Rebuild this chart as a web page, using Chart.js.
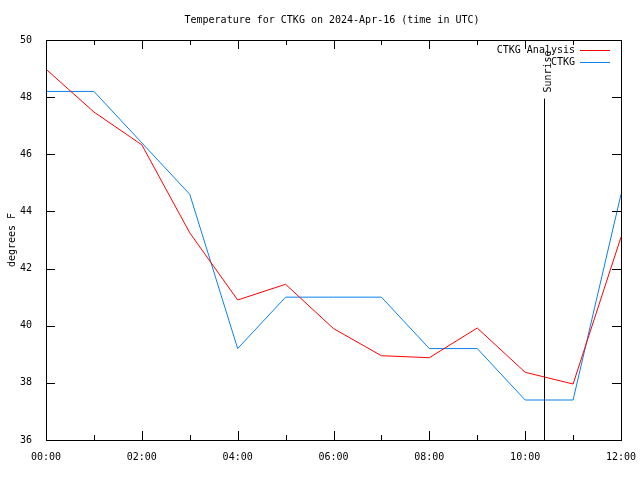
<!DOCTYPE html>
<html>
<head>
<meta charset="utf-8">
<script src="https://cdn.jsdelivr.net/npm/chart.js@4"></script>
<style>
html,body{margin:0;padding:0;background:#fff;}
#wrap{width:640px;height:480px;}
</style>
</head>
<body>
<div id="wrap"><canvas id="c" width="640" height="480"></canvas></div>
<script>
const titleText = 'Temperature for CTKG on 2024-Apr-16 (time in UTC)';
const yAxisLabel = 'degrees F';
const hours = [0,1,2,3,4,5,6,7,8,9,10,11,12];
const xTickLabels = ['00:00','02:00','04:00','06:00','08:00','10:00','12:00'];
const yTicks = [36,38,40,42,44,46,48,50];
const analysisLabel = 'CTKG Analysis';
const analysis = [48.98,47.48,46.33,43.25,40.9,41.45,39.9,38.95,38.88,39.92,38.37,37.96,43.1];
const obsLabel = 'CTKG';
const obs = [48.2,48.2,46.4,44.6,39.2,41.0,41.0,41.0,39.2,39.2,37.4,37.4,44.6];
const sunriseHour = 10.4;
const sunriseTop = 47.95;
const sunriseText = 'Sunrise';

const FONT = '10px "DejaVu Sans Mono", monospace';
const RED = '#ff0000';
const BLUE = '#0a80f0';

const decor = {
  id: 'decor',
  afterDatasetsDraw(chart) {
    const ctx = chart.ctx;
    const a = chart.chartArea;
    const xs = chart.scales.x, ys = chart.scales.y;
    ctx.save();
    ctx.strokeStyle = '#000';
    ctx.lineWidth = 1;
    ctx.strokeRect(Math.round(a.left)+0.5, Math.round(a.top)+0.5, Math.round(a.right-a.left), Math.round(a.bottom-a.top));
    ctx.beginPath();
    for (let h = 0; h <= 12; h++) {
      const px = Math.round(xs.getPixelForValue(h)) + 0.5;
      const len = (h % 2 === 0) ? 9 : 5;
      ctx.moveTo(px, a.bottom); ctx.lineTo(px, a.bottom - len);
      ctx.moveTo(px, a.top); ctx.lineTo(px, a.top + len);
    }
    for (const v of yTicks) {
      const py = Math.round(ys.getPixelForValue(v)) + 0.5;
      ctx.moveTo(a.left, py); ctx.lineTo(a.left + 9, py);
      ctx.moveTo(a.right, py); ctx.lineTo(a.right - 9, py);
    }
    ctx.stroke();
    const sx = Math.round(xs.getPixelForValue(sunriseHour)) + 0.5;
    ctx.beginPath();
    ctx.moveTo(sx, ys.getPixelForValue(sunriseTop));
    ctx.lineTo(sx, a.bottom);
    ctx.stroke();
    ctx.font = FONT;
    ctx.fillStyle = '#000';
    ctx.save();
    ctx.translate(sx + 6, ys.getPixelForValue(sunriseTop) - 6);
    ctx.rotate(-Math.PI/2);
    ctx.textAlign = 'left';
    ctx.textBaseline = 'alphabetic';
    ctx.fillText(sunriseText, 0, 0);
    ctx.restore();
    const items = [[analysisLabel, RED], [obsLabel, BLUE]];
    items.forEach((it, i) => {
      const y = 50 + i * 12;
      ctx.textAlign = 'right';
      ctx.textBaseline = 'middle';
      ctx.fillStyle = '#000';
      ctx.fillText(it[0], 575, y);
      ctx.strokeStyle = it[1];
      ctx.beginPath();
      ctx.moveTo(580, y + 0.5); ctx.lineTo(610, y + 0.5);
      ctx.stroke();
    });
    ctx.fillStyle = '#000';
    ctx.textAlign = 'center';
    ctx.textBaseline = 'middle';
    ctx.fillText(titleText, 332, 20);
    ctx.save();
    ctx.translate(12, 240);
    ctx.rotate(-Math.PI/2);
    ctx.textAlign = 'center';
    ctx.textBaseline = 'middle';
    ctx.fillText(yAxisLabel, 0, 0);
    ctx.restore();
    ctx.restore();
  }
};

new Chart(document.getElementById('c'), {
  type: 'line',
  data: {
    datasets: [
      { label: analysisLabel, data: hours.map((h,i)=>({x:h,y:analysis[i]})), borderColor: RED, borderWidth: 1, pointRadius: 0, tension: 0, fill: false },
      { label: obsLabel, data: hours.map((h,i)=>({x:h,y:obs[i]})), borderColor: BLUE, borderWidth: 1, pointRadius: 0, tension: 0, fill: false }
    ]
  },
  options: {
    responsive: false,
    animation: false,
    events: [],
    layout: { padding: { top: 40, right: 19, left: 0, bottom: 0 } },
    plugins: { legend: { display: false }, title: { display: false }, tooltip: { enabled: false } },
    scales: {
      x: {
        type: 'linear', min: 0, max: 12,
        grid: { display: false },
        border: { display: false },
        afterFit(s) { s.height = 40; s.paddingLeft = 0; s.paddingRight = 0; },
        afterBuildTicks(s) { s.ticks = xTickLabels.map((_, i) => ({ value: i * 2 })); },
        ticks: {
          autoSkip: false, maxRotation: 0, padding: 3,
          color: '#000', font: { family: '"DejaVu Sans Mono", monospace', size: 10 },
          callback: (v) => xTickLabels[v / 2]
        }
      },
      y: {
        min: 36, max: 50,
        grid: { display: false },
        border: { display: false },
        afterFit(s) { s.width = 46; s.paddingTop = 0; s.paddingBottom = 0; },
        afterBuildTicks(s) { s.ticks = yTicks.map(v => ({ value: v })); },
        ticks: {
          autoSkip: false, padding: 6,
          color: '#000', font: { family: '"DejaVu Sans Mono", monospace', size: 10 },
          callback: (v) => String(v)
        }
      }
    }
  },
  plugins: [decor]
});
</script>
</body>
</html>
